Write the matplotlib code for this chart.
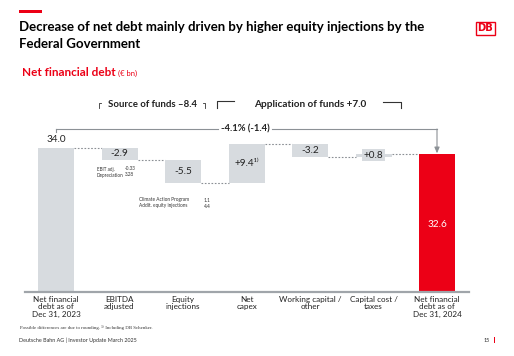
import matplotlib
matplotlib.use("Agg")
import matplotlib.pyplot as plt
from matplotlib.patches import Rectangle
from matplotlib.lines import Line2D

# ---------------- data ----------------
categories = ["Net financial\ndebt as of\nDec 31, 2023", "EBITDA\nadjusted", "Equity\ninjections",
              "Net\ncapex", "Working capital /\nother", "Capital cost /\ntaxes",
              "Net financial\ndebt as of\nDec 31, 2024"]
start_value = 34.0
deltas = [-2.9, -5.5, 9.4, -3.2, 0.8]
end_value = 32.6
value_labels = ["34.0", "-2.9", "-5.5", "+9.4¹⁾", "-3.2", "+0.8", "32.6"]
change_label = "-4.1% (-1.4)"
source_label = "Source of funds \u20138.4"
application_label = "Application of funds +7.0"
ebitda_notes = [("EBIT adj.", "-0.33"), ("Depreciation", "3.28")]
equity_notes = [("Climate Action Program", "1.1"), ("Addit. equity injections", "4.4")]

# ---------------- style ----------------
W, H = 514, 356
RED = "#ec0016"
GREY = "#d7dbdf"
LINE = "#8c9196"
FONT = ["Lato", "DejaVu Sans"]
plt.rcParams["font.family"] = FONT

fig = plt.figure(figsize=(W / 100, H / 100), dpi=100)
fig.patch.set_facecolor("white")

def fx(x):
    return x / W

def fy(y):
    return 1 - y / H

# axes: x centers at 56 .. 437 px, baseline y=292 px, 4.24 px per unit
ax_left, ax_right, ax_bottom, ax_top = 25, 469, 292, 90
ax = fig.add_axes([fx(ax_left), fy(ax_bottom), (ax_right - ax_left) / W, (ax_bottom - ax_top) / H])
n = len(categories)
spacing = (437 - 56) / (n - 1)
ax.set_xlim(-(56 - ax_left) / spacing, (n - 1) + (ax_right - 437) / spacing)
ppu = 4.24
ax.set_ylim(0, (ax_bottom - ax_top) / ppu)
for s in ["top", "right", "left"]:
    ax.spines[s].set_visible(False)
ax.spines["bottom"].set_color("#a0a5aa")
ax.spines["bottom"].set_linewidth(1.6)
ax.set_yticks([])
ax.set_xticks(range(n))
ax.set_xticklabels(categories, fontsize=5.9, color="#222222", linespacing=1.05)
ax.tick_params(axis="x", length=0, pad=3)

bw = 36 / spacing

# bars
levels = [start_value]
for d in deltas:
    levels.append(levels[-1] + d)

ax.bar(0, start_value, width=bw, color=GREY, zorder=2)
ax.bar(n - 1, end_value, width=bw, color=RED, zorder=2)
for i, d in enumerate(deltas, start=1):
    lo = min(levels[i - 1], levels[i])
    ax.bar(i, abs(d), bottom=lo, width=bw, color=GREY, zorder=2)

# connectors
for i in range(n - 1):
    lvl = levels[i]
    ax.plot([i + bw / 2, i + 1 - bw / 2], [lvl, lvl], color="#8a8f94", lw=0.8,
            ls=(0, (1.5, 1.5)), zorder=1)

# value labels
ax.text(0, start_value + 1.0, value_labels[0], ha="center", va="bottom", fontsize=7.2, color="#222222")
for i, d in enumerate(deltas, start=1):
    mid = (levels[i - 1] + levels[i]) / 2
    kw = {}
    if abs(d) < 1.5:
        kw["bbox"] = dict(boxstyle="square,pad=0.15", fc=GREY, ec="none")
    ax.text(i, mid, value_labels[i], ha="center", va="center", fontsize=7.2, color="#222222",
            zorder=3, family=["Lato", "DejaVu Sans"], **kw)
ax.text(n - 1, 16.0, value_labels[-1], ha="center", va="center", fontsize=7.2, color="white", zorder=3)

# change bracket
yb = (ax_bottom - 129) / ppu
ax.plot([0, 0], [start_value + 3.8, yb], color=LINE, lw=0.8, clip_on=False)
ax.plot([0, 2.55], [yb, yb], color=LINE, lw=0.8, clip_on=False)
ax.plot([3.4, n - 1], [yb, yb], color=LINE, lw=0.8, clip_on=False)
ax.annotate("", xy=(n - 1, end_value + 0.1), xytext=(n - 1, yb),
            arrowprops=dict(arrowstyle="-|>,head_width=0.15,head_length=0.35", color=LINE, lw=0.8,
                            shrinkA=0, shrinkB=0), annotation_clip=False)
ax.text((2.55 + 3.4) / 2, yb, change_label, ha="center", va="center", fontsize=6.8,
        fontweight="bold", color="#222222")

# source / application brackets (figure pixels)
fig.text(fx(152), fy(104), source_label, ha="center", va="center", fontsize=6.9, fontweight="bold", color="#222222")
fig.text(fx(310), fy(104), application_label, ha="center", va="center", fontsize=7.2, fontweight="bold", color="#222222")

def pline(xs, ys, lw=0.8):
    fig.add_artist(Line2D([fx(x) for x in xs], [fy(y) for y in ys], color="#333333", lw=lw))

pline([98.5, 98.5, 100.5], [108, 103, 103], lw=0.6)
pline([203, 205, 205], [103, 103, 108], lw=0.6)
pline([217, 217, 234], [108, 101, 101])
pline([383, 401, 401], [102, 102, 108])

# note texts
for k, (lab, val) in enumerate(ebitda_notes):
    fig.text(fx(97), fy(169 + 6 * k), lab, fontsize=3.3, va="center", ha="left", color="#333333")
    fig.text(fx(125), fy(169 + 6 * k), val, fontsize=3.3, va="center", ha="left", color="#333333")
for k, (lab, val) in enumerate(equity_notes):
    fig.text(fx(139), fy(199 + 6 * k), lab, fontsize=3.4, va="center", ha="left", color="#333333")
    fig.text(fx(204), fy(200 + 6 * k), val, fontsize=3.4, va="center", ha="left", color="#333333")

# title block
fig.add_artist(Rectangle((fx(19), fy(12.5)), 23 / W, 2.5 / H, color=RED, lw=0))
fig.text(fx(19), fy(27), "Decrease of net debt mainly driven by higher equity injections by the",
         fontsize=9.5, fontweight="bold", color="black", va="center", ha="left")
fig.text(fx(19), fy(44), "Federal Government", fontsize=9.5, fontweight="bold", color="black",
         va="center", ha="left")
fig.text(fx(22), fy(73), "Net financial debt", fontsize=8.5, fontweight="bold", color=RED,
         va="center", ha="left")
fig.text(fx(118), fy(73.5), "(\u20ac bn)", fontsize=5.5, color=RED, va="center", ha="left")

# DB logo
fig.add_artist(Rectangle((fx(475.5), fy(34.5)), 19.5 / W, 12.5 / H, fill=False, ec=RED, lw=1.0))
fig.text(fx(485.2), fy(28.3), "DB", fontsize=7.2, fontweight="bold", color=RED, ha="center", va="center",
         family="DejaVu Sans")

# footer
fig.text(fx(20), fy(327), "Possible differences are due to rounding. \u00b9\u207e Including DB Schenker.",
         fontsize=3.5, family=["Liberation Serif", "DejaVu Serif", "DejaVu Sans"], color="#333333",
         va="center", ha="left")
fig.text(fx(19), fy(340), "Deutsche Bahn AG | Investor Update March 2025", fontsize=3.9,
         color="#333333", va="center", ha="left")
fig.text(fx(490), fy(340), "15", fontsize=3.9, color="#333333", va="center", ha="right")
fig.add_artist(Rectangle((fx(493.5), fy(343)), 1.5 / W, 6 / H, color=RED, lw=0))

fig.savefig("out.png", dpi=100, facecolor="white")
